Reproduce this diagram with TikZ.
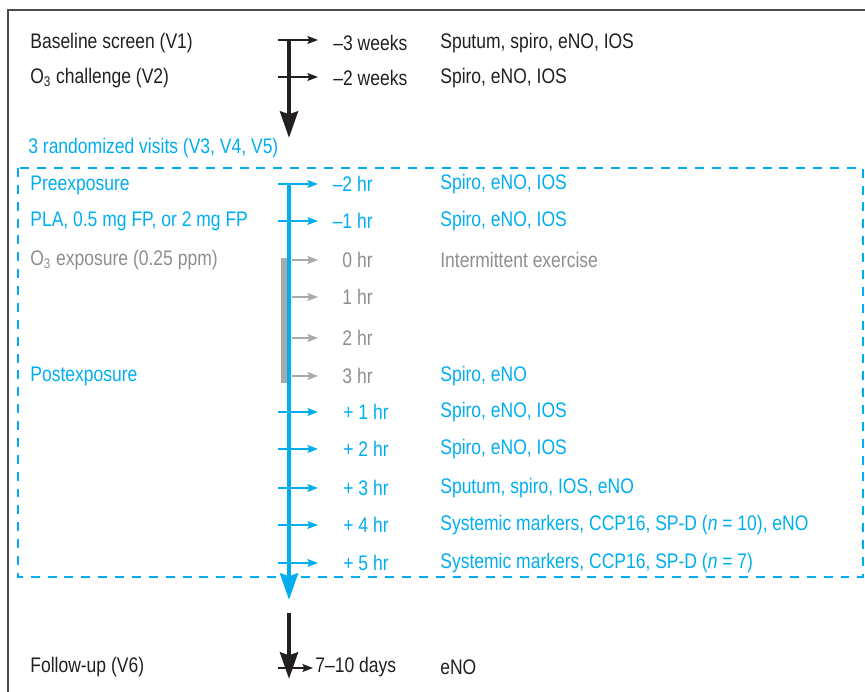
\documentclass[tikz,border=0pt]{standalone}
\usepackage{fontspec}
\setmainfont{Liberation Sans}[FakeStretch=0.83]
\usetikzlibrary{arrows.meta}

\definecolor{visitblue}{RGB}{0,174,239}
\definecolor{bargray}{RGB}{167,169,172}
\definecolor{textgray}{RGB}{140,142,145}
\definecolor{inkblack}{RGB}{35,31,32}

\begin{document}
\begin{tikzpicture}[
    every node/.style={inner sep=0pt, anchor=west, font=\fontsize{12}{14}\selectfont},
    tick/.style={line width=0.9pt, -{Stealth[length=6pt,width=4.5pt,inset=1pt]}},
    bigarrow/.style={line width=2.8pt, -{Stealth[length=15pt,width=10pt,inset=1.5pt]}}
]
    \useasboundingbox (0,0) rectangle (17.3,13.84);

    % Frame
    \draw [line width=1.1pt, color=black!70] (0.16,0) -- (0.16,13.64) -- (17.3,13.64);

    % Screening visits
    \node (v1) [inkblack] at (0.6,12.98) {Baseline screen (V1)};
    \node (v2) [inkblack] at (0.6,12.28) {O\textsubscript{3} challenge (V2)};
    \coordinate (top) at (5.78,13.04);
    \coordinate (topend) at (5.78,11.08);
    \draw [bigarrow, color=inkblack] (top) -- (topend);

    \coordinate (w3a) at (5.56,13.04);
    \coordinate (w3b) at (6.36,13.04);
    \draw [tick, color=inkblack] (w3a) -- (w3b);
    \node (w3) [inkblack] at (6.66,12.98) {–3 weeks};
    \node (w3m) [inkblack] at (8.8,12.98) {Sputum, spiro, eNO, IOS};

    \coordinate (w2a) at (5.56,12.3);
    \coordinate (w2b) at (6.36,12.3);
    \draw [tick, color=inkblack] (w2a) -- (w2b);
    \node (w2) [inkblack] at (6.66,12.28) {–2 weeks};
    \node (w2m) [inkblack] at (8.8,12.28) {Spiro, eNO, IOS};

    % Randomized visits
    \node (rand) [visitblue] at (0.56,10.88) {3 randomized visits (V3, V4, V5)};
    \draw [visitblue, line width=0.85pt, dash pattern=on 5.1pt off 4.5pt] (0.36,10.48) rectangle (17.26,2.3);

    \node (pre) [visitblue] at (0.6,10.14) {Preexposure};
    \node (drug) [visitblue] at (0.6,9.42) {PLA, 0.5 mg FP, or 2 mg FP};
    \node (expo) [textgray] at (0.6,8.64) {O\textsubscript{3} exposure (0.25 ppm)};
    \node (post) [visitblue] at (0.6,6.32) {Postexposure};

    % Exposure bar and time line
    \fill [bargray] (5.62,8.68) rectangle (5.74,6.18);
    \coordinate (t0) at (5.78,10.16);
    \coordinate (tend) at (5.78,1.84);
    \draw [bigarrow, color=visitblue] (t0) -- (tend);

    % Before exposure
    \foreach \ypos/\hr in {10.16/–2, 9.42/–1}
    {
      \coordinate (pa\hr) at (5.56,\ypos);
      \coordinate (pb\hr) at (6.36,\ypos);
      \draw [tick, color=visitblue] (pa\hr) -- (pb\hr);
      \node (ph\hr) [visitblue, anchor=east] at (7.46,\ypos) {\hr\ hr};
      \node (pm\hr) [visitblue] at (8.8,\ypos) {Spiro, eNO, IOS};
    };

    % During exposure
    \foreach \ypos/\hr in {8.64/0, 7.9/1, 7.08/2, 6.32/3}
    {
      \coordinate (ea\hr) at (5.84,\ypos);
      \coordinate (eb\hr) at (6.36,\ypos);
      \draw [tick, color=bargray] (ea\hr) -- (eb\hr);
      \node (eh\hr) [textgray, anchor=east] at (7.46,\ypos) {\hr\ hr};
    };
    \node (exer) [textgray] at (8.8,8.64) {Intermittent exercise};
    \node (em3) [visitblue] at (8.8,6.32) {Spiro, eNO};

    % After exposure
    \foreach \ypos/\hr/\meas in {5.6/1/{Spiro, eNO, IOS}, 4.86/2/{Spiro, eNO, IOS}, 4.08/3/{Sputum, spiro, IOS, eNO}, 3.34/4/{Systemic markers, CCP16, SP-D (\textit{n} = 10), eNO}, 2.58/5/{Systemic markers, CCP16, SP-D (\textit{n} = 7)}}
    {
      \coordinate (qa\hr) at (5.56,\ypos);
      \coordinate (qb\hr) at (6.36,\ypos);
      \draw [tick, color=visitblue] (qa\hr) -- (qb\hr);
      \node (qh\hr) [visitblue] at (6.86,\ypos) {+ \hr\ hr};
      \node (qm\hr) [visitblue] at (8.8,\ypos) {\meas};
    };

    % Follow-up
    \coordinate (fu) at (5.78,1.58);
    \coordinate (fuend) at (5.78,0.26);
    \draw [bigarrow, color=inkblack] (fu) -- (fuend);
    \coordinate (fa) at (5.56,0.48);
    \coordinate (fb) at (6.26,0.48);
    \draw [tick, color=inkblack] (fa) -- (fb);
    \node (v6) [inkblack] at (0.6,0.5) {Follow-up (V6)};
    \node (days) [inkblack] at (6.3,0.5) {7–10 days};
    \node (fum) [inkblack] at (8.8,0.5) {eNO};

\end{tikzpicture}
\end{document}
